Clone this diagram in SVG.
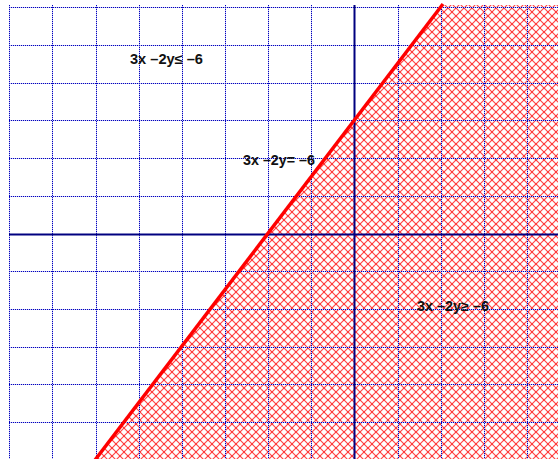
<svg xmlns="http://www.w3.org/2000/svg" width="558" height="459" viewBox="0 0 558 459">
<style>
.gridbg{stroke:#c4c4ee;stroke-width:1;fill:none}
.grid{stroke:#0000c0;stroke-width:1;stroke-dasharray:1 1;fill:none}
.axis{stroke:#000080;stroke-width:2;fill:none}
.bound{stroke:#ff0000;stroke-width:3.5;fill:none}
.lbl{font-family:"Liberation Sans",Arial,sans-serif;font-size:14px;font-weight:bold;fill:#111}
</style>
<defs>
<pattern id="hatch" patternUnits="userSpaceOnUse" width="8" height="8">
<path d="M0,0 L8,8 M-1,7 L1,9 M7,-1 L9,1" stroke="#ff0000" stroke-width="1.2" stroke-opacity="0.72"/>
<path d="M8,0 L0,8 M-1,1 L1,-1 M7,9 L9,7" stroke="#ff0000" stroke-width="1.2" stroke-opacity="0.72"/>
</pattern>
<path id="gv" d="M9.5,5V459 M52.5,5V459 M96.5,5V459 M139.5,5V459 M182.5,5V459 M225.5,5V459 M268.5,5V459 M311.5,5V459 M398.5,5V459 M441.5,5V459 M484.5,5V459 M527.5,5V459 M9,7.5H558 M9,45.5H558 M9,83.5H558 M9,120.5H558 M9,158.5H558 M9,196.5H558 M9,271.5H558 M9,309.5H558 M9,347.5H558 M9,384.5H558 M9,422.5H558"/>
</defs>
<rect width="558" height="459" fill="#ffffff"/>
<g id="region">
<polygon points="442.5,5 558,5 558,459 95.5,459" fill="url(#hatch)"/>
</g>
<g id="grid">
<use href="#gv" class="gridbg"/>
<use href="#gv" class="grid"/>
</g>
<g id="axes">
<line class="axis" x1="354.5" y1="5" x2="354.5" y2="459"/>
<line class="axis" x1="9" y1="234.5" x2="558" y2="234.5"/>
</g>
<g id="connectors">
<line class="bound" x1="443" y1="4" x2="95" y2="460"/>
</g>
<g id="label-less">
<text class="lbl" x="130" y="64" textLength="73" lengthAdjust="spacingAndGlyphs">3x –2y≤ –6</text>
</g>
<g id="label-eq">
<text class="lbl" x="243" y="165" textLength="72" lengthAdjust="spacingAndGlyphs">3x –2y= –6</text>
</g>
<g id="label-greater">
<text class="lbl" x="417" y="311" textLength="72" lengthAdjust="spacingAndGlyphs">3x –2y≥ –6</text>
</g>
</svg>
